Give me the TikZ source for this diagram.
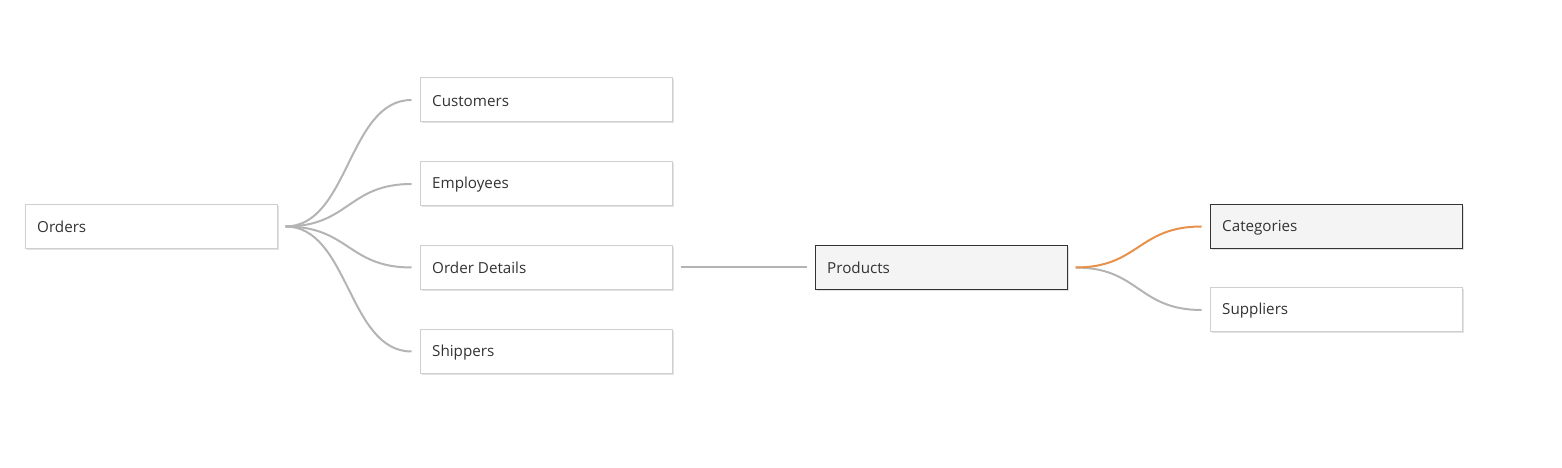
\documentclass[tikz,border=0pt]{standalone}
\usepackage{fontspec}
\setmainfont{Open Sans}
\usetikzlibrary{shadows}
\definecolor{linegray}{HTML}{B4B4B4}
\definecolor{boxborder}{HTML}{CFCFCF}
\definecolor{shadowgray}{HTML}{E2E2E2}
\definecolor{selfill}{HTML}{F4F4F4}
\definecolor{selborder}{HTML}{333333}
\definecolor{txt}{HTML}{333333}
\definecolor{orangeline}{HTML}{E8914A}
\begin{document}
\begin{tikzpicture}[x=1pt,y=1pt,
  tbl/.style={draw=boxborder, line width=1pt, fill=white, minimum width=252pt, minimum height=44pt,
    inner sep=0pt, text=txt,
    drop shadow={shadow xshift=1.5pt, shadow yshift=-1.5pt, fill=shadowgray, opacity=1}},
  seltbl/.style={tbl, draw=selborder, fill=selfill},
  lbl/.style={anchor=west, text=txt, font=\fontsize{15.2}{17}\selectfont, inner sep=0pt, yshift=-0.8pt},
  conn/.style={draw=linegray, line width=2pt},
  hot/.style={draw=orangeline, line width=2pt}]
\useasboundingbox (0,0) rectangle (1562,468);
% boxes (y flipped: 468 - y)
\node[tbl] (orders) at (151,241.5) {};
\node[tbl] (customers) at (546,368) {};
\node[tbl] (employees) at (546,284) {};
\node[tbl] (details) at (546,200.5) {};
\node[tbl] (shippers) at (546,116.5) {};
\node[seltbl] (products) at (941,200.5) {};
\node[seltbl] (categories) at (1336,241.5) {};
\node[tbl] (suppliers) at (1336,158) {};
% labels
\node[lbl] at ([xshift=12.5pt]orders.west) {Orders};
\node[lbl] at ([xshift=12.5pt]customers.west) {Customers};
\node[lbl] at ([xshift=12.5pt]employees.west) {Employees};
\node[lbl] at ([xshift=12.5pt]details.west) {Order Details};
\node[lbl] at ([xshift=12.5pt]shippers.west) {Shippers};
\node[lbl] at ([xshift=12.5pt]products.west) {Products};
\node[lbl] at ([xshift=12.5pt]categories.west) {Categories};
\node[lbl] at ([xshift=12.5pt]suppliers.west) {Suppliers};
% connector end points
\coordinate (oR) at ([xshift=8pt]orders.east);
\coordinate (cL) at ([xshift=-8pt]customers.west);
\coordinate (eL) at ([xshift=-8pt]employees.west);
\coordinate (dL) at ([xshift=-8pt]details.west);
\coordinate (sL) at ([xshift=-8pt]shippers.west);
\coordinate (dR) at ([xshift=8pt]details.east);
\coordinate (pL) at ([xshift=-8pt]products.west);
\coordinate (pR) at ([xshift=8pt]products.east);
\coordinate (catL) at ([xshift=-8pt]categories.west);
\coordinate (supL) at ([xshift=-8pt]suppliers.west);
% connectors
\foreach \t in {cL,eL,dL,sL}{
  \draw[conn] (oR) .. controls ([xshift=63.5pt]oR) and ([xshift=-63.5pt]\t) .. (\t);
}
\draw[conn] (dR) -- (pL);
\draw[conn] (pR) .. controls ([xshift=63.5pt]pR) and ([xshift=-63.5pt]supL) .. (supL);
\draw[hot] (pR) .. controls ([xshift=63.5pt]pR) and ([xshift=-63.5pt]catL) .. (catL);
\end{tikzpicture}
\end{document}
